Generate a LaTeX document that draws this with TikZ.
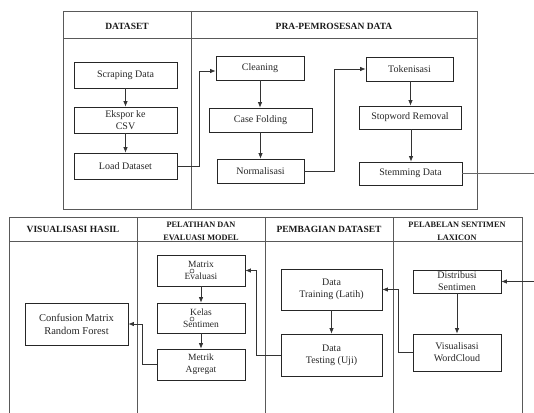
\documentclass[tikz,border=0pt]{standalone}
\usepackage{fontspec}
\setmainfont{Liberation Serif}
\usetikzlibrary{arrows.meta,positioning}

\begin{document}
\begin{tikzpicture}[x=1pt, y=-1pt,
  lane/.style={draw=black!65, line width=0.9pt},
  box/.style={draw=black!85, line width=0.8pt, rectangle, align=center, inner sep=1pt,
    text=black!85, font=\fontsize{10}{12}\selectfont},
  head/.style={align=center, text=black!90, font=\bfseries\fontsize{9.5}{13}\selectfont},
  smallhead/.style={head, font=\bfseries\fontsize{8.3}{13}\selectfont},
  flow/.style={-{Latex[length=5.5pt,width=4.5pt]}, line width=0.7pt, draw=black!80}]

  \useasboundingbox (0,0) rectangle (534,412);

  % lajur atas
  \draw[lane] (63,11) rectangle (477,209);
  \draw[lane] (63,38) -- (477,38);
  \draw[lane] (191,11) -- (191,209);
  \node[head] (hDataset) at (127,26) {DATASET};
  \node[head] (hPra) at (334,26) {PRA-PEMROSESAN DATA};

  % lajur bawah
  \draw[lane] (9,414) -- (9,217) -- (522,217) -- (522,414);
  \draw[lane] (9,241) -- (522,241);
  \foreach \xx in {137,265,393}
    \draw[lane] (\xx,217) -- (\xx,414);
  \node[head] (hVis) at (73,229) {VISUALISASI HASIL};
  \node[smallhead] (hLatih) at (201,231.5) {PELATIHAN DAN\\EVALUASI MODEL};
  \node[head] (hBagi) at (329,229) {PEMBAGIAN DATASET};
  \node[smallhead] (hLabel) at (457,231) {PELABELAN SENTIMEN\\LAXICON};

  % node atas
  \node[box, minimum width=103pt, minimum height=26pt] (scrape) at (125.5,75) {Scraping Data};
  \node[box, minimum width=103pt, minimum height=26pt] (ekspor) at (125.5,120) {Ekspor ke\\CSV};
  \node[box, minimum width=103pt, minimum height=26pt] (load) at (125.5,166) {Load Dataset};
  \node[box, minimum width=88pt, minimum height=24pt] (clean) at (260,68) {Cleaning};
  \node[box, minimum width=103pt, minimum height=24pt] (casefold) at (260.5,120) {Case Folding};
  \node[box, minimum width=87pt, minimum height=24pt] (normal) at (260.5,171) {Normalisasi};
  \node[box, minimum width=87pt, minimum height=24pt] (token) at (409.5,69) {Tokenisasi};
  \node[box, minimum width=102pt, minimum height=23pt] (stopword) at (410,117.5) {Stopword Removal};
  \node[box, minimum width=103pt, minimum height=23pt] (stem) at (410.5,173.5) {Stemming Data};

  % node bawah
  \node[box, minimum width=103pt, minimum height=42pt, font=\fontsize{10.5}{13}\selectfont] (confmat) at (76.5,324) {Confusion Matrix\\Random Forest};
  \node[box, minimum width=88pt, minimum height=31pt, font=\fontsize{9.5}{12}\selectfont] (matrixev) at (201,270.5) {Matrix\\Evaluasi};
  \node[box, minimum width=88pt, minimum height=30pt, font=\fontsize{9.5}{12}\selectfont] (kelas) at (201,318) {Kelas\\Sentimen};
  \node[box, minimum width=88pt, minimum height=31pt, font=\fontsize{9.5}{12}\selectfont] (metrik) at (201,364.5) {Metrik\\Agregat};
  \node[box, minimum width=101pt, minimum height=41pt] (training) at (331.5,289.5) {Data\\Training (Latih)};
  \node[box, minimum width=101pt, minimum height=42pt] (testing) at (331.5,355) {Data\\Testing (Uji)};
  \node[box, minimum width=88pt, minimum height=23pt] (distribusi) at (457,281.5) {Distribusi\\Sentimen};
  \node[box, minimum width=88pt, minimum height=37pt] (wordcloud) at (457,352.5) {Visualisasi\\WordCloud};
  \draw[black!80, line width=0.5pt] (192,271) circle (2) (192,319) circle (2);

  \coordinate (outR) at (534,173.5);
  \coordinate (inR) at (534,281.5);

  % alur
  \draw[flow] (scrape) -- (ekspor);
  \draw[flow] (ekspor) -- (load);
  \draw[flow] (load.east) -- ++(22,0) |- ([yshift=-3pt]clean.west);
  \draw[flow] (clean) -- (clean.south |- casefold.north);
  \draw[flow] (casefold.south -| normal) -- (normal);
  \draw[flow] (normal.east) -- ++(30,0) |- (token.west);
  \draw[flow] ([xshift=1pt]token.south) -- ([xshift=1pt]token.south |- stopword.north);
  \draw[flow] ([xshift=1pt]stopword.south) -- ([xshift=1pt]stopword.south |- stem.north);
  \draw[line width=0.7pt, draw=black!60] (stem.east) -- (outR);
  \draw[flow] (inR) -- (distribusi.east);
  \draw[flow] (distribusi.south) -- (distribusi.south |- wordcloud.north);
  \draw[flow] (wordcloud.west) -- ++(-14,0) |- (training.east);
  \draw[flow] (training) -- (testing);
  \draw[flow] (testing.west) -- ++(-24,0) |- (matrixev.east);
  \draw[flow] (matrixev) -- (kelas);
  \draw[flow] (kelas) -- (metrik);
  \draw[flow] (metrik.west) -- ++(-14,0) |- (confmat.east);
\end{tikzpicture}
\end{document}
